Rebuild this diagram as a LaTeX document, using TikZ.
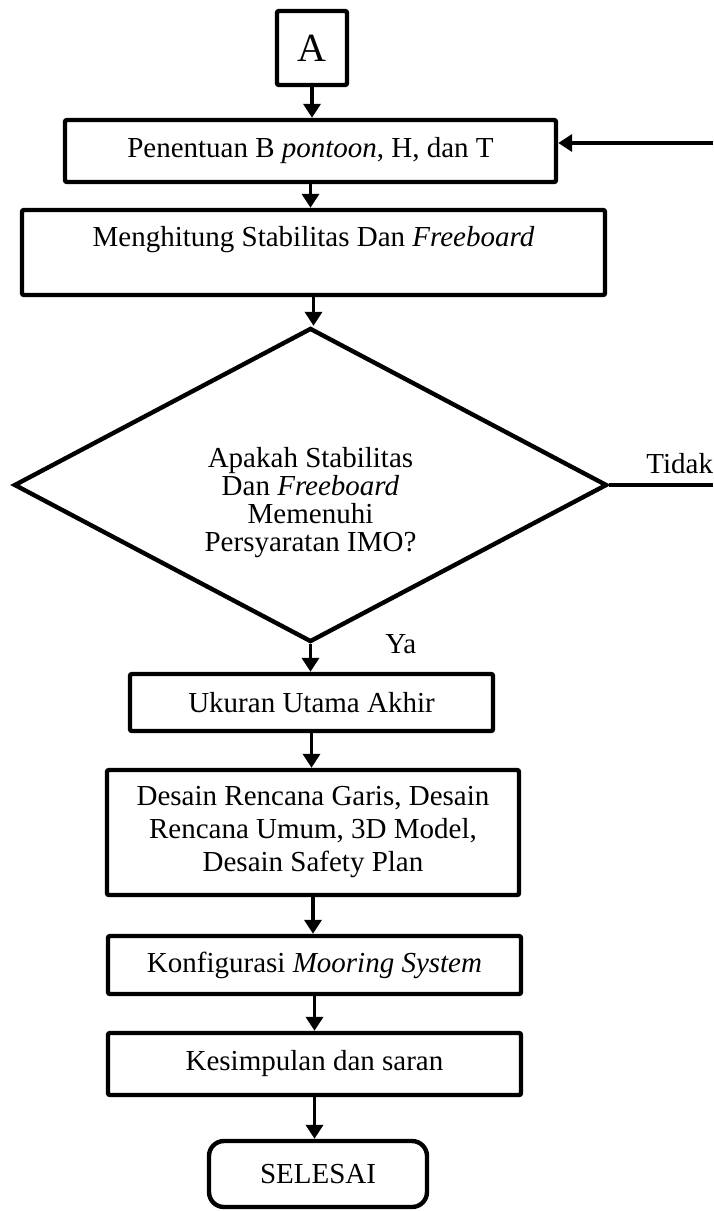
\documentclass[tikz,border=0pt]{standalone}
\usepackage{fontspec}
\setmainfont{Liberation Serif}
\usetikzlibrary{arrows.meta,shapes.geometric}

\begin{document}
\begin{tikzpicture}[
  x=0.5pt, y=-0.5pt,
  font=\fontsize{14.5}{16.5}\selectfont,
  blok/.style={rectangle, rounded corners=1pt, draw=black, line width=2.2pt,
               inner sep=0pt, align=center},
  panah/.style={-{Triangle[width=8.5pt,length=7pt]}, line width=1.8pt},
  garis/.style={line width=2pt}
]
\useasboundingbox (0,0) rectangle (713,1211);

\node[blok, minimum width=35pt, minimum height=37pt, font=\fontsize{20}{22}\selectfont] (a) at (312,48) {A};
\node[blok, minimum width=245.5pt, minimum height=31pt] (tentu) at (310.5,151) {Penentuan B \textit{pontoon}, H, dan T};
\node[blok, minimum width=291.5pt, minimum height=42.5pt] (hitung) at (313.5,252.5) {Menghitung Stabilitas Dan \textit{Freeboard}\\\mbox{}};
\node[diamond, draw, line width=2.2pt, minimum width=296.5pt, minimum height=157pt, inner sep=0pt] (cek) at (310.5,485) {};
\node[align=center, font=\fontsize{14.5}{14}\selectfont] (tanya) at (310.5,503) {Apakah Stabilitas\\Dan \textit{Freeboard}\\Memenuhi\\Persyaratan IMO?};
\node[blok, minimum width=181.5pt, minimum height=28.5pt] (ukuran) at (311.5,702.5) {Ukuran Utama Akhir};
\node[blok, minimum width=206pt, minimum height=62.5pt] (desain) at (313,832.5) {Desain Rencana Garis, Desain\\Rencana Umum, 3D Model,\\Desain Safety Plan};
\node[blok, minimum width=206.5pt, minimum height=29pt] (mooring) at (314.5,965) {Konfigurasi \textit{Mooring System}};
\node[blok, minimum width=206.5pt, minimum height=31pt] (simpul) at (314.5,1064) {Kesimpulan dan saran};
\node[blok, rounded corners=7.5pt, minimum width=109pt, minimum height=33pt] (selesai) at (318,1174) {SELESAI};

\draw[panah] (a.south) -- (a.south |- tentu.north);
\draw[panah] (tentu.south) -- (tentu.south |- hitung.north);
\draw[panah] (hitung.south) -- (hitung.south |- cek.north);
\draw[panah] (cek.south) -- (cek.south |- ukuran.north);
\draw[panah] (ukuran.south) -- (ukuran.south |- desain.north);
\draw[panah] (desain.south) -- (desain.south |- mooring.north);
\draw[panah] (mooring.south) -- (mooring.south |- simpul.north);
\draw[panah] (simpul.south) -- (simpul.south |- selesai.north);

\coordinate (balik) at (713,143);
\draw[panah] (balik) -- (balik -| tentu.east);
\coordinate (tepi) at (713,485);
\draw[garis] (cek.east) -- (cek.east -| tepi);
\node[anchor=base west, inner sep=0pt] (tidak) at (646,473) {Tidak};
\node[anchor=base west, inner sep=0pt] (ya) at (385,653) {Ya};
\end{tikzpicture}
\end{document}
